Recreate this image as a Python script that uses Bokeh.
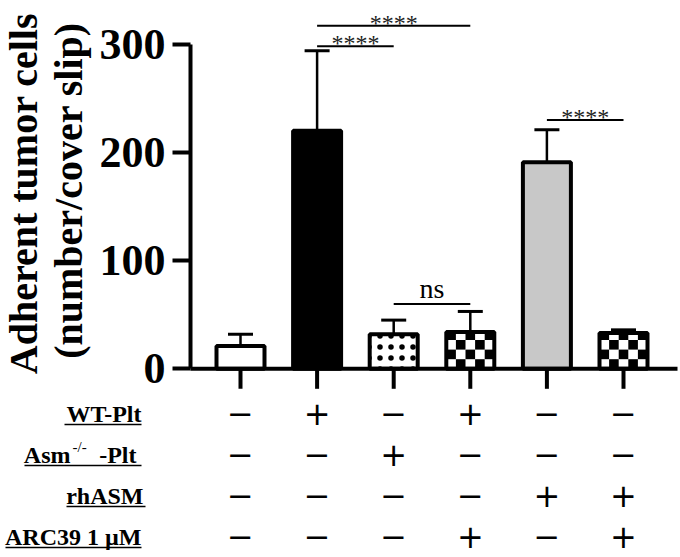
import math
from bokeh.plotting import figure
from bokeh.models import Range1d, FixedTicker, ColumnDataSource
from bokeh.embed import file_html
from bokeh.resources import INLINE
from bokeh.core.properties import value

# ---------------- data ----------------
groups = [0, 1, 2, 3, 4, 5]
means = [21, 220, 32, 34, 191, 33]
sems = [11, 74, 13, 19, 30, 3]
fills = ["white", "black", "white", "white", "#c8c8c8", "white"]
patterns = [" ", " ", ".", " ", " ", " "]
checker = [False, False, False, True, False, True]

sig_from = [1, 1, 2, 4]
sig_to = [3, 2, 3, 5]
sig_y = [317, 298, 60, 230]
sig_text = ["****", "****", "ns", "****"]

y_ticks = [0, 100, 200, 300]
y_title = ["Adherent tumor cells", "(number/cover slip)"]

row_labels = ["WT-Plt", "Asm", "rhASM", "ARC39 1 \u00b5M"]
asm_sup = "-/-"
asm_suffix = "-Plt"
wt_plt = [0, 1, 0, 1, 0, 0]
asm_plt = [0, 0, 1, 0, 0, 0]
rhasm = [0, 0, 0, 0, 1, 1]
arc39 = [0, 0, 0, 1, 0, 1]
table = [wt_plt, asm_plt, rhasm, arc39]

# ---------------- layout (pixel geometry) ----------------
W, H = 680, 557
PPU = 76.6          # px per category step
PPY = 1.082         # px per y unit
X_ZERO_PX = 240     # page x of first bar
Y_ZERO_PX = 368.3   # page y of value 0
XL = -X_ZERO_PX / PPU
XR = XL + W / PPU
YT = Y_ZERO_PX / PPY
YB = YT - H / PPY
SERIF = "Liberation Serif"
BAR_W = 48 / PPU


def dx(px):
    return XL + px / PPU


def dy(py):
    return YT - py / PPY


p = figure(width=W, height=H, x_range=Range1d(XL, XR), y_range=Range1d(YB, YT),
           output_backend="svg", toolbar_location=None, x_axis_location=None,
           min_border_left=0, min_border_right=0, min_border_top=0, min_border_bottom=0)
p.outline_line_color = None
p.grid.visible = False

# y axis (real axis, pinned at the left edge of the bar area)
ya = p.yaxis[0]
ya.fixed_location = dx(190)
ya.bounds = (0, 300)
ya.ticker = FixedTicker(ticks=y_ticks)
ya.axis_line_width = 4
ya.major_tick_line_width = 4
ya.major_tick_out = 18
ya.major_tick_in = 0
ya.minor_tick_out = 0
ya.minor_tick_in = 0
ya.major_label_text_font = SERIF
ya.major_label_text_font_style = "bold"
ya.major_label_text_font_size = "44px"
ya.major_label_text_color = "black"
ya.major_label_standoff = 7

# y title (two rotated lines)
p.text(x=[dx(23), dx(68)], y=[dy(193), dy(190)], text=y_title, angle=math.pi / 2,
       text_font=value(SERIF), text_font_style="bold", text_font_size="40px",
       text_color="black", text_align="center", text_baseline="middle")

# bars
src = ColumnDataSource(dict(x=groups, top=means, fill=fills, hatch=patterns))
p.vbar(x="x", top="top", bottom=0, width=BAR_W, source=src,
       fill_color="fill", line_color=None,
       hatch_pattern="hatch", hatch_color="black", hatch_scale=11, hatch_weight=2.5)

ncol = 5
cw = BAR_W / ncol
ch = cw * PPU / PPY
ql, qr, qb, qt = [], [], [], []
for i, m in zip(groups, means):
    if not checker[i]:
        continue
    for r in range(math.ceil(m / ch)):
        for c in range(ncol):
            if (r + c) % 2 == 1:
                ql.append(i - BAR_W / 2 + c * cw)
                qr.append(i - BAR_W / 2 + (c + 1) * cw)
                qb.append(r * ch)
                qt.append(min((r + 1) * ch, m))
p.quad(left=ql, right=qr, bottom=qb, top=qt, fill_color="black", line_color=None)

p.vbar(x="x", top="top", bottom=0, width=BAR_W, source=src,
       fill_alpha=0, line_color="black", line_width=4)

# baseline + x ticks
p.segment(x0=[dx(190)], y0=[0], x1=[dx(677)], y1=[0], line_color="black", line_width=4)
p.segment(x0=groups, y0=[0] * 6, x1=groups, y1=[-20 / PPY] * 6,
          line_color="black", line_width=4)

# error bars
tops = [m + s for m, s in zip(means, sems)]
cap = 12.5 / PPU
p.segment(x0=groups, y0=means, x1=groups, y1=tops, line_color="black", line_width=2.5)
p.segment(x0=[g - cap for g in groups], y0=tops, x1=[g + cap for g in groups], y1=tops,
          line_color="black", line_width=3)

# significance
p.segment(x0=sig_from, y0=sig_y, x1=sig_to, y1=sig_y, line_color="black", line_width=2)
sx = [(a + b) / 2 for a, b in zip(sig_from, sig_to)]
sy = [y + (15 if t == "ns" else 3) / PPY for y, t in zip(sig_y, sig_text)]
ssize = ["28px" if t == "ns" else "24px" for t in sig_text]
scol = ["black" if t == "ns" else "#222222" for t in sig_text]
ssrc = ColumnDataSource(dict(x=sx, y=sy, t=sig_text, s=ssize, c=scol))
p.text(x="x", y="y", text="t", source=ssrc, text_font=value(SERIF),
       text_font_size="s", text_color="c", text_align="center", text_baseline="alphabetic")

# ---------------- condition table ----------------
row_px = [413, 454, 495, 536]
row_y = [dy(v) for v in row_px]
tx, ty, tt = [], [], []
for r, row in enumerate(table):
    for g, v in zip(groups, row):
        tx.append(g)
        ty.append(row_y[r])
        tt.append("+" if v else "\u2212")
p.text(x=tx, y=ty, text=tt, text_font=value("DejaVu Sans"), text_font_size="32px",
       text_color="black", text_align="center", text_baseline="middle")

label_right = [141, 70, 143, 141]
p.text(x=[dx(v) for v in label_right], y=row_y, text=row_labels,
       text_font=value(SERIF), text_font_style="bold", text_font_size="24px",
       text_color="black", text_align="right", text_baseline="middle")
p.text(x=[dx(72)], y=[dy(row_px[1] - 8)], text=[asm_sup], text_font=value(SERIF),
       text_font_size="15px", text_color="black", text_align="left", text_baseline="middle")
p.text(x=[dx(136)], y=[row_y[1]], text=[asm_suffix], text_font=value(SERIF),
       text_font_style="bold", text_font_size="24px", text_color="black",
       text_align="right", text_baseline="middle")

ul_start = [64, 24, 66, 5]
ul_end = [141, 141, 145, 141]
p.segment(x0=[dx(v) for v in ul_start], x1=[dx(v) for v in ul_end],
          y0=[dy(v + 11) for v in row_px], y1=[dy(v + 11) for v in row_px],
          line_color="black", line_width=1.5)

open("out.html", "w").write(file_html(p, INLINE))
